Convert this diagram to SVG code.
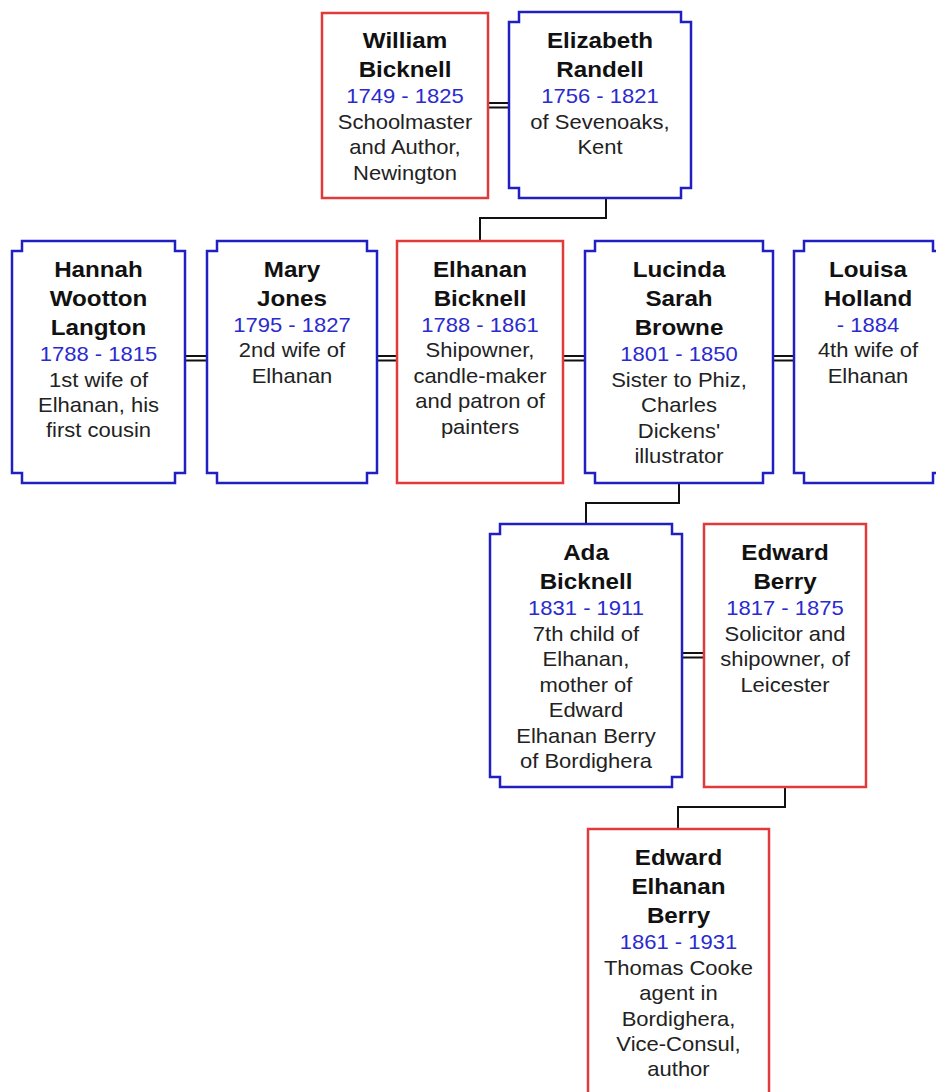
<svg xmlns="http://www.w3.org/2000/svg" width="936" height="1092" viewBox="0 0 936 1092">
<style>
.m{fill:#fff;stroke:#e03a3a;stroke-width:2.5}
.f{fill:#fff;stroke:#2020c0;stroke-width:2.5}
text{font-family:"Liberation Sans",Arial,sans-serif;text-anchor:middle;fill:#222}
.n{font-weight:bold;font-size:22px;fill:#111}
.d{font-size:20px;fill:#2a2ad0}
.t{font-size:20px}
.c{fill:none;stroke:#111;stroke-width:2}
</style>
<g id="connectors">
<path class="c" d="M488,103H509M488,107.5H509"/>
<path class="c" d="M606,198V218H480V241"/>
<path class="c" d="M185,356H207M185,360.5H207"/>
<path class="c" d="M377,356H397M377,360.5H397"/>
<path class="c" d="M563,356H585M563,360.5H585"/>
<path class="c" d="M773,356H794M773,360.5H794"/>
<path class="c" d="M679,483V503H586V524"/>
<path class="c" d="M682,653H704M682,657.5H704"/>
<path class="c" d="M785,787V807H678V829"/>
</g>
<g id="william">
<rect class="m" x="322" y="13" width="166" height="185"/>
<g transform="translate(405,0) scale(1.1,1)">
<text class="n" y="48">William</text><text class="n" y="77">Bicknell</text>
<text class="d" y="103">1749 - 1825</text>
<text class="t" y="129">Schoolmaster</text><text class="t" y="154">and Author,</text><text class="t" y="180">Newington</text>
</g></g>
<g id="elizabeth">
<path class="f" d="M519,12H681V22H691V188H681V198H519V188H509V22H519Z"/>
<g transform="translate(600,0) scale(1.1,1)">
<text class="n" y="48">Elizabeth</text><text class="n" y="77">Randell</text>
<text class="d" y="103">1756 - 1821</text>
<text class="t" y="129">of Sevenoaks,</text><text class="t" y="154">Kent</text>
</g></g>
<g id="hannah">
<path class="f" d="M22,241H175V251H185V473H175V483H22V473H12V251H22Z"/>
<g transform="translate(98.5,0) scale(1.1,1)">
<text class="n" y="277">Hannah</text><text class="n" y="306">Wootton</text><text class="n" y="335">Langton</text>
<text class="d" y="361">1788 - 1815</text>
<text class="t" y="387">1st wife of</text><text class="t" y="412">Elhanan, his</text><text class="t" y="437">first cousin</text>
</g></g>
<g id="mary">
<path class="f" d="M217,241H367V251H377V473H367V483H217V473H207V251H217Z"/>
<g transform="translate(292,0) scale(1.1,1)">
<text class="n" y="277">Mary</text><text class="n" y="306">Jones</text>
<text class="d" y="332">1795 - 1827</text>
<text class="t" y="357">2nd wife of</text><text class="t" y="383">Elhanan</text>
</g></g>
<g id="elhanan">
<rect class="m" x="397" y="241" width="166" height="242"/>
<g transform="translate(480,0) scale(1.1,1)">
<text class="n" y="277">Elhanan</text><text class="n" y="306">Bicknell</text>
<text class="d" y="332">1788 - 1861</text>
<text class="t" y="357">Shipowner,</text><text class="t" y="383">candle-maker</text><text class="t" y="408">and patron of</text><text class="t" y="434">painters</text>
</g></g>
<g id="lucinda">
<path class="f" d="M595,241H763V251H773V473H763V483H595V473H585V251H595Z"/>
<g transform="translate(679,0) scale(1.1,1)">
<text class="n" y="277">Lucinda</text><text class="n" y="306">Sarah</text><text class="n" y="335">Browne</text>
<text class="d" y="361">1801 - 1850</text>
<text class="t" y="387">Sister to Phiz,</text><text class="t" y="412">Charles</text><text class="t" y="438">Dickens'</text><text class="t" y="463">illustrator</text>
</g></g>
<g id="louisa">
<path class="f" d="M804,241H933V251H943V473H933V483H804V473H794V251H804Z"/>
<g transform="translate(868,0) scale(1.1,1)">
<text class="n" y="277">Louisa</text><text class="n" y="306">Holland</text>
<text class="d" y="332">- 1884</text>
<text class="t" y="357">4th wife of</text><text class="t" y="383">Elhanan</text>
</g></g>
<g id="ada">
<path class="f" d="M500,524H672V534H682V777H672V787H500V777H490V534H500Z"/>
<g transform="translate(586,0) scale(1.1,1)">
<text class="n" y="560">Ada</text><text class="n" y="589">Bicknell</text>
<text class="d" y="615">1831 - 1911</text>
<text class="t" y="641">7th child of</text><text class="t" y="666">Elhanan,</text><text class="t" y="692">mother of</text><text class="t" y="717">Edward</text><text class="t" y="743">Elhanan Berry</text><text class="t" y="768">of Bordighera</text>
</g></g>
<g id="edward">
<rect class="m" x="704" y="524" width="162" height="263"/>
<g transform="translate(785,0) scale(1.1,1)">
<text class="n" y="560">Edward</text><text class="n" y="589">Berry</text>
<text class="d" y="615">1817 - 1875</text>
<text class="t" y="641">Solicitor and</text><text class="t" y="666">shipowner, of</text><text class="t" y="692">Leicester</text>
</g></g>
<g id="eeb">
<rect class="m" x="588" y="829" width="181" height="270"/>
<g transform="translate(678.5,0) scale(1.1,1)">
<text class="n" y="865">Edward</text><text class="n" y="894">Elhanan</text><text class="n" y="923">Berry</text>
<text class="d" y="949">1861 - 1931</text>
<text class="t" y="975">Thomas Cooke</text><text class="t" y="1000">agent in</text><text class="t" y="1026">Bordighera,</text><text class="t" y="1051">Vice-Consul,</text><text class="t" y="1076">author</text>
</g></g>
</svg>
